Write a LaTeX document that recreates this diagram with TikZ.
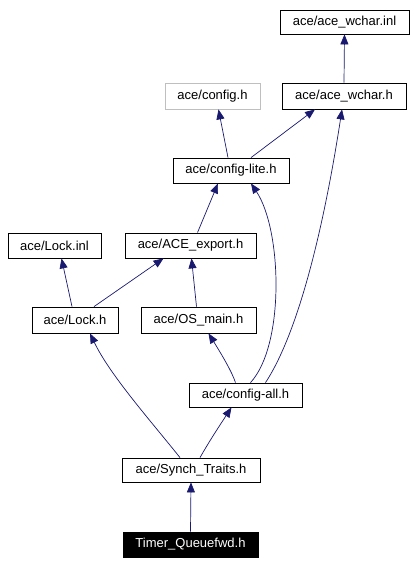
\documentclass[tikz,border=0pt]{standalone}
\usepackage{fontspec}
\setmainfont{Liberation Sans}
\usetikzlibrary{arrows.meta}
\definecolor{edgeblue}{HTML}{191970}
\definecolor{greyborder}{HTML}{BFBFBF}
\tikzset{
  filebox/.style={draw=black, line width=0.8pt, fill=white, inner sep=0pt, font=\fontsize{13pt}{15pt}\selectfont},
  greybox/.style={filebox, draw=greyborder},
  rootbox/.style={filebox, fill=black, text=white},
  dep/.style={draw=edgeblue, line width=0.7pt, -{Triangle[length=10pt,width=8pt]}},
}
\begin{document}
\begin{tikzpicture}[x=1pt,y=-1pt]
\useasboundingbox (0,0) rectangle (415,564);
\node[filebox, minimum width=129pt, minimum height=24pt] (wcharinl) at (344.5,22) {ace/ace\_wchar.inl};
\node[filebox, minimum width=124pt, minimum height=26pt] (wcharh) at (344,96) {ace/ace\_wchar.h};
\node[greybox, minimum width=95pt, minimum height=26pt] (config) at (212.5,96) {ace/config.h};
\node[filebox, minimum width=116pt, minimum height=25pt] (lite) at (231,170.5) {ace/config-lite.h};
\node[filebox, minimum width=93pt, minimum height=25pt] (lockinl) at (54.5,245.5) {ace/Lock.inl};
\node[filebox, minimum width=131pt, minimum height=25pt] (export) at (190.5,245.5) {ace/ACE\_export.h};
\node[filebox, minimum width=86pt, minimum height=26pt] (lockh) at (75,320) {ace/Lock.h};
\node[filebox, minimum width=115pt, minimum height=26pt] (osmain) at (198.5,320) {ace/OS\_main.h};
\node[filebox, minimum width=113pt, minimum height=24pt] (all) at (245.5,395) {ace/config-all.h};
\node[filebox, minimum width=138pt, minimum height=24pt] (synch) at (191,470) {ace/Synch\_Traits.h};
\node[rootbox, minimum width=135pt, minimum height=25pt] (timer) at (190.5,544.5) {Timer\_Queuefwd.h};
\draw[dep] (timer.north) -- (synch.south);
\draw[dep] ([xshift=-11pt]synch.north) .. controls (150,420) and (110,375) .. ([xshift=15pt]lockh.south);
\draw[dep] ([xshift=9pt]synch.north) .. controls (210,440) and (220,425) .. ([xshift=-14pt]all.south);
\draw[dep] ([xshift=-10pt]all.north) .. controls (232,372) and (222,355) .. ([xshift=10pt]osmain.south);
\draw[dep] ([xshift=5pt]all.north) .. controls (285,345) and (282,230) .. ([xshift=20pt]lite.south);
\draw[dep] ([xshift=20pt]all.north) .. controls (300,330) and (325,220) .. ([xshift=-2pt]wcharh.south);
\draw[dep] ([xshift=-2pt]osmain.north) -- ([xshift=1pt]export.south);
\draw[dep] ([xshift=19pt]lockh.north) -- ([xshift=-27pt]export.south);
\draw[dep] ([xshift=-3pt]lockh.north) -- ([xshift=7pt]lockinl.south);
\draw[dep] ([xshift=7pt]export.north) -- ([xshift=-13pt]lite.south);
\draw[dep] ([xshift=-3pt]lite.north) -- ([xshift=6pt]config.south);
\draw[dep] ([xshift=20pt]lite.north) -- ([xshift=-29pt]wcharh.south);
\draw[dep] (wcharh.north) -- (wcharinl.south);
\end{tikzpicture}
\end{document}
